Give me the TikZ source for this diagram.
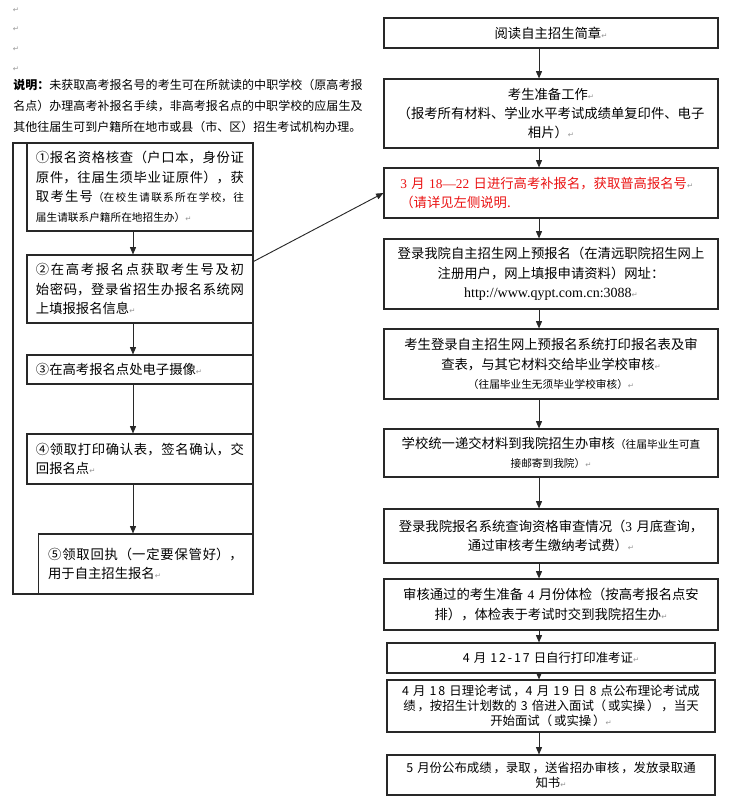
\documentclass[tikz,border=0pt]{standalone}
\usepackage{fontspec}
\setmainfont{Noto Sans CJK SC}
\newfontfamily\latfont{Liberation Serif}
\newfontfamily\symfont{DejaVu Sans}
\newfontfamily\lowfont[LetterSpace=15]{Noto Sans CJK SC}
\usetikzlibrary{arrows.meta,calc}
\XeTeXlinebreaklocale "zh"
\XeTeXlinebreakskip=0pt
\definecolor{NoteRed}{RGB}{235,20,20}
\definecolor{MarkGray}{RGB}{150,150,150}
\definecolor{LineGray}{RGB}{40,40,40}
\newcommand{\pmark}{{\symfont\fontsize{5.5}{5.5}\selectfont\textcolor{MarkGray}{↵}}}
\newcommand{\smalltxt}[1]{{\fontsize{8}{12}\selectfont #1}}
\newcommand{\justskip}{\XeTeXlinebreakskip=0pt plus 3pt\relax}
\tikzset{
  stepbox/.style={
    draw=LineGray,
    line width=0.8pt,
    fill=white,
    inner ysep=1pt,
    font=\fontsize{10}{14.6}\selectfont
  },
  leftbox/.style={stepbox, text width=156pt, inner xsep=6.75pt, align=justify,
    font=\fontsize{10}{14.6}\selectfont\justskip},
  rightbox/.style={stepbox, text width=244pt, inner xsep=3.25pt, align=center},
  lowbox/.style={stepbox, text width=240pt, inner xsep=3pt, align=center,
    font=\lowfont\fontsize{9.3}{11}\selectfont},
  framebox/.style={draw=LineGray, line width=0.8pt, inner sep=0pt,
    minimum width=180pt, minimum height=338.25pt},
  notetext/.style={text width=262pt, inner sep=0pt, align=justify,
    font=\fontsize{9}{15.75}\selectfont\justskip},
  flowarrow/.style={-{Triangle[length=5.5pt,width=4.5pt]}, line width=0.7pt, draw=LineGray}
}
\begin{document}
\begin{tikzpicture}[x=0.75pt,y=-0.75pt]
  \useasboundingbox (0,0) rectangle (750,800);
  % stray paragraph marks and the note
  \foreach \k in {1,...,4}
    \node[inner sep=0pt] (pil\k) at (16,{10+19.7*(\k-1)}) {\pmark};
  \node[notetext,anchor=north west] (note) at (13,79) {{\bfseries 说明：}未获取高考报名号的考生可在所就读的中职学校（原高考报\linebreak 名点）办理高考补报名手续，非高考报名点的中职学校的应届生及\linebreak 其他往届生可到户籍所在地市或县（市、区）招生考试机构办理。};

  % left column
  \node[framebox] (outer) at (133,368.5) {};
  \coordinate (lx) at (133,0);
  \node[leftbox,minimum height=66pt] (ck1) at (140,187) {①报名资格核查（户口本，身份证\linebreak 原件，往届生须毕业证原件），获\linebreak 取考生号\smalltxt{（在校生请联系所在学校，往\linebreak 届生请联系户籍所在地招生办）}\pmark};
  \node[leftbox,minimum height=51pt] (ck2) at (140,289) {②在高考报名点获取考生号及初\linebreak 始密码，登录省招生办报名系统网\linebreak 上填报报名信息\pmark};
  \node[leftbox,minimum height=21.75pt] (ck3) at (140,369.5) {③在高考报名点处电子摄像\pmark};
  \node[leftbox,minimum height=37.5pt] (ck4) at (140,459) {④领取打印确认表，签名确认，交\linebreak 回报名点\pmark};
  \node[leftbox,text width=146pt,inner xsep=7.6pt,minimum height=45pt] (ck5) at (145.5,564) {⑤领取回执（一定要保管好），\linebreak 用于自主招生报名\pmark};
  \foreach \a/\b in {ck1/ck2,ck2/ck3,ck3/ck4,ck4/ck5}
    \draw[flowarrow] (\a.south -| lx) -- (\b.north -| lx);

  % right column
  \coordinate (rx) at (539,0);
  \node[rightbox,minimum height=22.5pt] (ra) at (551,33) {阅读自主招生简章\pmark};
  \node[rightbox,minimum height=51.75pt] (rb) at (551,113.5) {考生准备工作\pmark\\（报考所有材料、学业水平考试成绩单复印件、电子\\相片）\pmark};
  \node[rightbox,minimum height=37.5pt,align=left,text width=226pt,inner xsep=12.25pt,text=NoteRed] (rc) at (551,193) {{\latfont 3} 月 {\latfont 18—22} 日进行高考补报名，获取普高报名号\pmark\\（请详见左侧说明.};
  \node[rightbox,minimum height=52.5pt] (rd) at (551,274) {登录我院自主招生网上预报名（在清远职院招生网上\\注册用户，网上填报申请资料）网址：\\{\latfont\fontsize{10.5}{14}\selectfont http://www.qypt.com.cn:3088}\pmark};
  \node[rightbox,minimum height=52.5pt] (re) at (551,364) {考生登录自主招生网上预报名系统打印报名表及审\\查表，与其它材料交给毕业学校审核\pmark\\\smalltxt{（往届毕业生无须毕业学校审核）}\pmark};
  \node[rightbox,minimum height=36pt] (rf) at (551,453) {学校统一递交材料到我院招生办审核\smalltxt{（往届毕业生可直}\\\smalltxt{接邮寄到我院）}\pmark};
  \node[rightbox,minimum height=40.5pt] (rg) at (551,536) {登录我院报名系统查询资格审查情况（{\latfont 3} 月底查询，\\通过审核考生缴纳考试费）\pmark};
  \node[rightbox,minimum height=38.25pt] (rh) at (551,604.5) {审核通过的考生准备 {\latfont 4} 月份体检（按高考报名点安\\排），体检表于考试时交到我院招生办\pmark};
  \node[lowbox,minimum height=22.5pt] (ri) at (551,658) {4 月 12-17 日自行打印准考证\pmark};
  \node[lowbox,minimum height=39pt] (rj) at (551,706) {4 月 18 日理论考试，4 月 19 日 8 点公布理论考试成\\绩，按招生计划数的 3 倍进入面试（或实操），当天\\开始面试（或实操）\pmark};
  \node[lowbox,minimum height=30pt] (rk) at (551,775) {5 月份公布成绩，录取，送省招办审核，发放录取通\\知书\pmark};
  \foreach \a/\b in {ra/rb,rb/rc,rc/rd,rd/re,re/rf,rf/rg,rg/rh,rh/ri,ri/rj,rj/rk}
    \draw[flowarrow] (\a.south -| rx) -- (\b.north -| rx);

  % link from the left column
  \draw[flowarrow] ($(ck2.north east)+(0,7)$) -- (rc.west);
\end{tikzpicture}
\end{document}
